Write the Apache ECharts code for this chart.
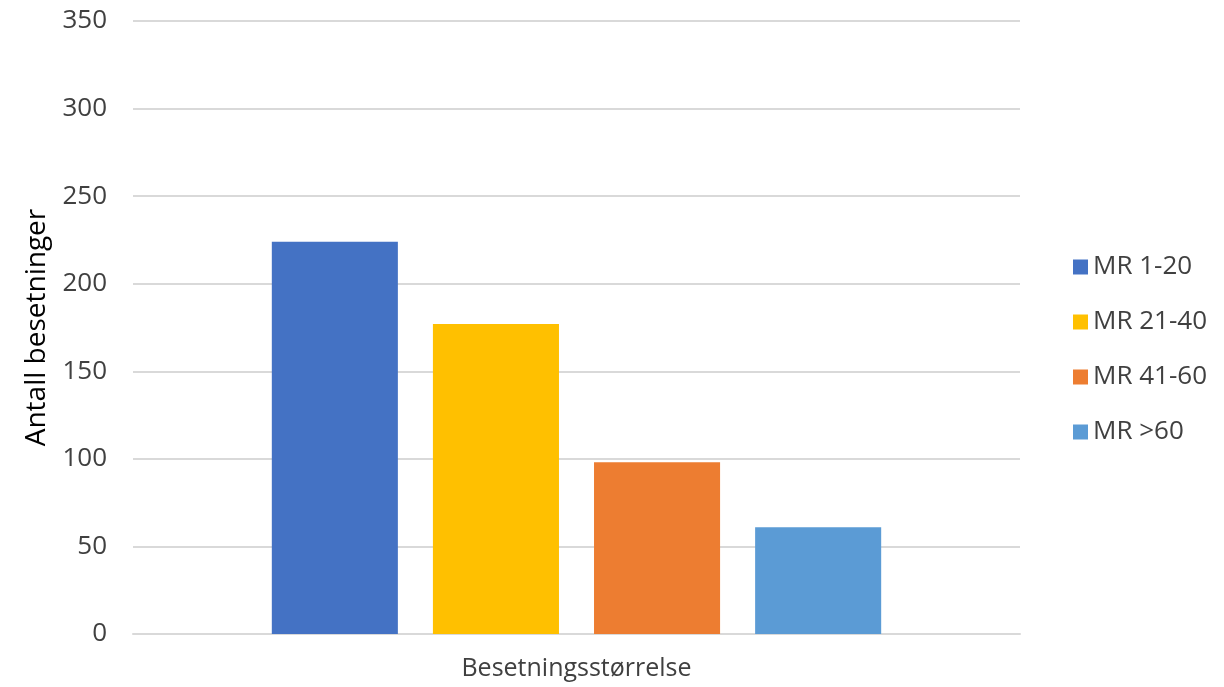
<!DOCTYPE html>
<html><head><meta charset="utf-8">
<script src="https://cdn.jsdelivr.net/npm/echarts@6/dist/echarts.min.js"></script>
<style>html,body{margin:0;padding:0;background:#fff}#c{width:1224px;height:687px}</style>
</head><body><div id="c"></div>
<script>
const categories = ['Besetningsstørrelse'];
const seriesNames = ['MR 1-20', 'MR 21-40', 'MR 41-60', 'MR >60'];
const seriesValues = [224, 177, 98, 61];
const colors = ['#4472C4', '#FFC000', '#ED7D31', '#5B9BD5'];
const yTicks = { min: 0, max: 350, interval: 50 };
const yName = 'Antall besetninger';

const font = 'Open Sans';
const chart = echarts.init(document.getElementById('c'));
chart.setOption({
  animation: false,
  color: colors,
  grid: { left: 133, right: 204, top: 21, bottom: 53 },
  legend: {
    orient: 'vertical', left: 1068, top: 249,
    itemWidth: 15, itemHeight: 15, itemGap: 29,
    icon: 'rect',
    textStyle: { fontFamily: font, fontSize: 26, color: '#404040' },
    data: seriesNames
  },
  xAxis: {
    type: 'category', data: categories,
    axisLine: { lineStyle: { color: '#d9d9d9', width: 2 } },
    axisTick: { show: false },
    axisLabel: { fontFamily: font, fontSize: 25, color: '#404040', margin: 22 }
  },
  yAxis: {
    type: 'value', min: yTicks.min, max: yTicks.max, interval: yTicks.interval,
    name: yName, nameLocation: 'middle', nameGap: 82, nameRotate: 90,
    nameTextStyle: { fontFamily: font, fontSize: 28, color: '#000' },
    axisLine: { show: false }, axisTick: { show: false },
    axisLabel: { fontFamily: font, fontSize: 26, color: '#404040', margin: 26 },
    splitLine: { lineStyle: { color: '#d9d9d9', width: 2 } }
  },
  series: seriesNames.map((n, i) => ({
    name: n, type: 'bar',
    data: [seriesValues[i]],
    barCategoryGap: '31.3%', barGap: '27.8%'
  }))
});
</script></body></html>
